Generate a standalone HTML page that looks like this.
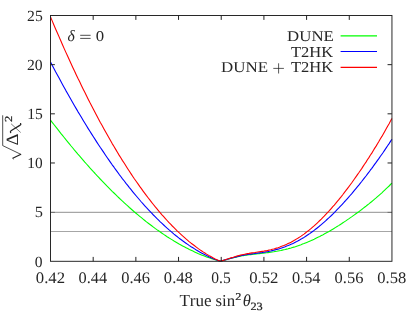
<!DOCTYPE html>
<html><head><meta charset="utf-8">
<title>chart</title>
<style>
html,body{margin:0;padding:0;background:#fff;}
body{width:415px;height:312px;overflow:hidden;font-family:"Liberation Serif",serif;}
svg{display:block}
text{font-family:"Liberation Serif",serif;font-size:20px;fill:#262626;font-kerning:none;text-rendering:geometricPrecision;}
.i{font-style:italic}
.s{stroke:#161616;stroke-width:0.35px}
.t{will-change:transform}
</style></head><body>
<svg width="415" height="312" viewBox="0 0 415 312">
<rect width="415" height="312" fill="#fff"/>
<!-- gray reference lines -->
<path d="M50.5,212.4 H391.95 M50.5,231.5 H391.95" stroke="#a6a6a6" stroke-width="1.1" fill="none"/>
<path d="M50.5,212.4 h4.4 M391.95,212.4 h-4.4" stroke="#6a6a6a" stroke-width="0.9" fill="none"/>
<!-- curves -->
<g fill="none" stroke-width="1.1" stroke-linejoin="round">
<path d="M50.5,120.1 L52.2,122.3 L53.9,124.5 L55.6,126.7 L57.4,128.9 L59.1,131.1 L60.8,133.3 L62.5,135.4 L64.2,137.5 L65.9,139.7 L67.7,141.8 L69.4,143.9 L71.1,146.0 L72.8,148.0 L74.5,150.1 L76.2,152.1 L77.9,154.1 L79.7,156.1 L81.4,158.1 L83.1,160.1 L84.8,162.1 L86.5,164.0 L88.2,165.9 L89.9,167.9 L91.7,169.8 L93.4,171.7 L95.1,173.5 L96.8,175.4 L98.5,177.2 L100.2,179.0 L102.0,180.8 L103.7,182.6 L105.4,184.4 L107.1,186.2 L108.8,187.9 L110.5,189.6 L112.2,191.3 L114.0,193.0 L115.7,194.7 L117.4,196.4 L119.1,198.0 L120.8,199.6 L122.5,201.2 L124.3,202.8 L126.0,204.4 L127.7,205.9 L129.4,207.5 L131.1,209.0 L132.8,210.5 L134.5,212.0 L136.3,213.5 L138.0,214.9 L139.7,216.3 L141.4,217.7 L143.1,219.1 L144.8,220.5 L146.5,221.9 L148.3,223.2 L150.0,224.5 L151.7,225.8 L153.4,227.1 L155.1,228.4 L156.8,229.6 L158.6,230.8 L160.3,232.0 L162.0,233.2 L163.7,234.4 L165.4,235.5 L167.1,236.7 L168.8,237.8 L170.6,238.9 L172.3,239.9 L174.0,241.0 L175.7,242.0 L177.4,243.0 L179.1,244.0 L180.9,245.0 L182.6,245.9 L184.3,246.8 L186.0,247.7 L187.7,248.6 L189.4,249.5 L191.1,250.3 L192.9,251.1 L194.6,251.9 L196.3,252.7 L198.0,253.5 L199.7,254.2 L201.4,254.9 L203.1,255.6 L204.9,256.3 L206.6,256.9 L208.3,257.5 L210.0,258.1 L211.7,258.7 L213.4,259.3 L215.2,259.8 L216.9,260.3 L218.6,260.8 L220.3,261.3 L221.7,260.9 L223.2,260.5 L224.6,260.1 L226.1,259.7 L227.5,259.3 L229.0,258.9 L230.4,258.5 L231.8,258.1 L233.3,257.8 L234.7,257.4 L236.2,257.1 L237.6,256.7 L239.1,256.4 L240.5,256.1 L241.9,255.8 L243.4,255.6 L244.8,255.3 L246.3,255.1 L247.7,254.9 L249.1,254.8 L250.6,254.6 L252.0,254.4 L253.5,254.2 L254.9,254.1 L256.4,253.9 L257.8,253.7 L259.2,253.6 L260.7,253.4 L262.1,253.3 L263.6,253.1 L265.0,253.0 L266.5,252.8 L267.9,252.6 L269.3,252.4 L270.8,252.2 L272.2,252.0 L273.7,251.8 L275.1,251.5 L276.6,251.3 L278.0,251.0 L279.4,250.7 L280.9,250.5 L282.3,250.1 L283.8,249.8 L285.2,249.5 L286.7,249.1 L288.1,248.8 L289.5,248.4 L291.0,248.0 L292.4,247.5 L293.9,247.1 L295.3,246.7 L296.7,246.2 L298.2,245.7 L299.6,245.2 L301.1,244.7 L302.5,244.1 L304.0,243.6 L305.4,243.0 L306.8,242.4 L308.3,241.8 L309.7,241.2 L311.2,240.6 L312.6,239.9 L314.1,239.2 L315.5,238.5 L316.9,237.8 L318.4,237.1 L319.8,236.4 L321.3,235.6 L322.7,234.9 L324.2,234.1 L325.6,233.3 L327.0,232.5 L328.5,231.7 L329.9,230.9 L331.4,230.0 L332.8,229.2 L334.3,228.3 L335.7,227.4 L337.1,226.5 L338.6,225.6 L340.0,224.7 L341.5,223.8 L342.9,222.8 L344.3,221.9 L345.8,220.9 L347.2,219.9 L348.7,218.9 L350.1,217.9 L351.6,216.9 L353.0,215.9 L354.4,214.9 L355.9,213.8 L357.3,212.8 L358.8,211.7 L360.2,210.6 L361.7,209.5 L363.1,208.4 L364.5,207.3 L366.0,206.2 L367.4,205.0 L368.9,203.9 L370.3,202.7 L371.8,201.5 L373.2,200.3 L374.6,199.1 L376.1,197.9 L377.5,196.6 L379.0,195.3 L380.4,194.1 L381.9,192.8 L383.3,191.4 L384.7,190.1 L386.2,188.7 L387.6,187.4 L389.1,186.0 L390.5,184.5 L391.9,183.1" stroke="#00ff00"/>
<path d="M50.5,62.0 L52.2,65.3 L53.9,68.5 L55.6,71.7 L57.4,74.9 L59.1,78.1 L60.8,81.3 L62.5,84.4 L64.2,87.5 L65.9,90.6 L67.7,93.7 L69.4,96.7 L71.1,99.7 L72.8,102.7 L74.5,105.7 L76.2,108.6 L77.9,111.6 L79.7,114.5 L81.4,117.3 L83.1,120.2 L84.8,123.0 L86.5,125.8 L88.2,128.6 L89.9,131.3 L91.7,134.1 L93.4,136.8 L95.1,139.4 L96.8,142.1 L98.5,144.7 L100.2,147.3 L102.0,149.9 L103.7,152.4 L105.4,155.0 L107.1,157.5 L108.8,159.9 L110.5,162.4 L112.2,164.8 L114.0,167.2 L115.7,169.6 L117.4,171.9 L119.1,174.3 L120.8,176.5 L122.5,178.8 L124.3,181.0 L126.0,183.3 L127.7,185.4 L129.4,187.6 L131.1,189.7 L132.8,191.8 L134.5,193.9 L136.3,196.0 L138.0,198.0 L139.7,200.0 L141.4,202.0 L143.1,203.9 L144.8,205.8 L146.5,207.7 L148.3,209.6 L150.0,211.4 L151.7,213.2 L153.4,215.0 L155.1,216.7 L156.8,218.4 L158.6,220.1 L160.3,221.8 L162.0,223.4 L163.7,225.0 L165.4,226.6 L167.1,228.2 L168.8,229.7 L170.6,231.2 L172.3,232.6 L174.0,234.1 L175.7,235.5 L177.4,236.8 L179.1,238.2 L180.9,239.5 L182.6,240.8 L184.3,242.0 L186.0,243.2 L187.7,244.4 L189.4,245.6 L191.1,246.7 L192.9,247.8 L194.6,248.9 L196.3,250.0 L198.0,251.0 L199.7,252.0 L201.4,252.9 L203.1,253.8 L204.9,254.7 L206.6,255.6 L208.3,256.4 L210.0,257.2 L211.7,258.0 L213.4,258.7 L215.2,259.4 L216.9,260.1 L218.6,260.7 L220.3,261.3 L221.7,260.9 L223.2,260.4 L224.6,260.0 L226.1,259.6 L227.5,259.2 L229.0,258.8 L230.4,258.4 L231.8,258.0 L233.3,257.6 L234.7,257.3 L236.2,256.9 L237.6,256.5 L239.1,256.1 L240.5,255.8 L241.9,255.5 L243.4,255.2 L244.8,254.9 L246.3,254.7 L247.7,254.5 L249.1,254.3 L250.6,254.1 L252.0,253.9 L253.5,253.7 L254.9,253.5 L256.4,253.3 L257.8,253.1 L259.2,252.9 L260.7,252.8 L262.1,252.6 L263.6,252.3 L265.0,252.1 L266.5,251.8 L267.9,251.6 L269.3,251.3 L270.8,251.0 L272.2,250.6 L273.7,250.3 L275.1,249.9 L276.6,249.5 L278.0,249.1 L279.4,248.7 L280.9,248.2 L282.3,247.7 L283.8,247.2 L285.2,246.7 L286.7,246.1 L288.1,245.6 L289.5,245.0 L291.0,244.3 L292.4,243.7 L293.9,243.0 L295.3,242.2 L296.7,241.5 L298.2,240.7 L299.6,239.9 L301.1,239.1 L302.5,238.2 L304.0,237.4 L305.4,236.5 L306.8,235.5 L308.3,234.5 L309.7,233.6 L311.2,232.5 L312.6,231.5 L314.1,230.4 L315.5,229.3 L316.9,228.2 L318.4,227.0 L319.8,225.8 L321.3,224.6 L322.7,223.4 L324.2,222.1 L325.6,220.9 L327.0,219.5 L328.5,218.2 L329.9,216.9 L331.4,215.5 L332.8,214.1 L334.3,212.6 L335.7,211.2 L337.1,209.7 L338.6,208.2 L340.0,206.7 L341.5,205.2 L342.9,203.6 L344.3,202.0 L345.8,200.4 L347.2,198.8 L348.7,197.1 L350.1,195.5 L351.6,193.8 L353.0,192.1 L354.4,190.4 L355.9,188.6 L357.3,186.9 L358.8,185.1 L360.2,183.3 L361.7,181.5 L363.1,179.7 L364.5,177.8 L366.0,176.0 L367.4,174.1 L368.9,172.2 L370.3,170.2 L371.8,168.3 L373.2,166.4 L374.6,164.4 L376.1,162.4 L377.5,160.4 L379.0,158.4 L380.4,156.3 L381.9,154.2 L383.3,152.2 L384.7,150.1 L386.2,147.9 L387.6,145.8 L389.1,143.6 L390.5,141.4 L391.9,139.2" stroke="#0000ff"/>
<path d="M50.5,16.9 L52.2,20.9 L53.9,25.0 L55.6,29.0 L57.4,33.0 L59.1,36.9 L60.8,40.8 L62.5,44.7 L64.2,48.6 L65.9,52.4 L67.7,56.2 L69.4,59.9 L71.1,63.7 L72.8,67.4 L74.5,71.0 L76.2,74.7 L77.9,78.3 L79.7,81.8 L81.4,85.4 L83.1,88.9 L84.8,92.3 L86.5,95.8 L88.2,99.2 L89.9,102.6 L91.7,105.9 L93.4,109.2 L95.1,112.5 L96.8,115.8 L98.5,119.0 L100.2,122.2 L102.0,125.3 L103.7,128.4 L105.4,131.5 L107.1,134.6 L108.8,137.6 L110.5,140.6 L112.2,143.6 L114.0,146.5 L115.7,149.4 L117.4,152.2 L119.1,155.1 L120.8,157.8 L122.5,160.6 L124.3,163.3 L126.0,166.0 L127.7,168.7 L129.4,171.3 L131.1,173.9 L132.8,176.5 L134.5,179.0 L136.3,181.5 L138.0,183.9 L139.7,186.4 L141.4,188.7 L143.1,191.1 L144.8,193.4 L146.5,195.7 L148.3,198.0 L150.0,200.2 L151.7,202.4 L153.4,204.5 L155.1,206.7 L156.8,208.7 L158.6,210.8 L160.3,212.8 L162.0,214.8 L163.7,216.7 L165.4,218.6 L167.1,220.5 L168.8,222.4 L170.6,224.2 L172.3,226.0 L174.0,227.7 L175.7,229.4 L177.4,231.1 L179.1,232.7 L180.9,234.3 L182.6,235.9 L184.3,237.4 L186.0,238.9 L187.7,240.3 L189.4,241.8 L191.1,243.2 L192.9,244.5 L194.6,245.8 L196.3,247.1 L198.0,248.4 L199.7,249.6 L201.4,250.7 L203.1,251.9 L204.9,253.0 L206.6,254.1 L208.3,255.1 L210.0,256.1 L211.7,257.0 L213.4,258.0 L215.2,258.9 L216.9,259.7 L218.6,260.5 L220.3,261.3 L221.7,260.8 L223.2,260.4 L224.6,259.9 L226.1,259.4 L227.5,259.0 L229.0,258.5 L230.4,258.1 L231.8,257.6 L233.3,257.2 L234.7,256.7 L236.2,256.3 L237.6,255.9 L239.1,255.5 L240.5,255.1 L241.9,254.8 L243.4,254.5 L244.8,254.2 L246.3,253.9 L247.7,253.6 L249.1,253.4 L250.6,253.1 L252.0,252.9 L253.5,252.7 L254.9,252.5 L256.4,252.2 L257.8,252.0 L259.2,251.8 L260.7,251.6 L262.1,251.4 L263.6,251.2 L265.0,250.9 L266.5,250.7 L267.9,250.4 L269.3,250.0 L270.8,249.7 L272.2,249.3 L273.7,249.0 L275.1,248.6 L276.6,248.1 L278.0,247.7 L279.4,247.2 L280.9,246.6 L282.3,246.1 L283.8,245.5 L285.2,244.9 L286.7,244.3 L288.1,243.6 L289.5,242.9 L291.0,242.2 L292.4,241.4 L293.9,240.6 L295.3,239.8 L296.7,238.9 L298.2,238.0 L299.6,237.1 L301.1,236.1 L302.5,235.1 L304.0,234.1 L305.4,233.0 L306.8,231.9 L308.3,230.8 L309.7,229.6 L311.2,228.4 L312.6,227.2 L314.1,225.9 L315.5,224.6 L316.9,223.3 L318.4,221.9 L319.8,220.5 L321.3,219.1 L322.7,217.7 L324.2,216.2 L325.6,214.7 L327.0,213.2 L328.5,211.6 L329.9,210.0 L331.4,208.4 L332.8,206.7 L334.3,205.1 L335.7,203.4 L337.1,201.6 L338.6,199.9 L340.0,198.1 L341.5,196.3 L342.9,194.5 L344.3,192.6 L345.8,190.7 L347.2,188.8 L348.7,186.9 L350.1,185.0 L351.6,183.0 L353.0,181.0 L354.4,179.0 L355.9,176.9 L357.3,174.9 L358.8,172.8 L360.2,170.7 L361.7,168.6 L363.1,166.4 L364.5,164.2 L366.0,162.1 L367.4,159.8 L368.9,157.6 L370.3,155.3 L371.8,153.1 L373.2,150.7 L374.6,148.4 L376.1,146.1 L377.5,143.7 L379.0,141.3 L380.4,138.8 L381.9,136.4 L383.3,133.9 L384.7,131.4 L386.2,128.8 L387.6,126.3 L389.1,123.7 L390.5,121.0 L391.9,118.4" stroke="#ff0000"/>
</g>
<!-- frame + ticks -->
<rect x="50.5" y="15.5" width="341.45" height="245.80" fill="none" stroke="#1e1e1e" stroke-width="0.95"/>
<path d="M93.18,261.3 v-4.4 M93.18,15.5 v4.4 M135.86,261.3 v-4.4 M135.86,15.5 v4.4 M178.54,261.3 v-4.4 M178.54,15.5 v4.4 M221.23,261.3 v-4.4 M221.23,15.5 v4.4 M263.91,261.3 v-4.4 M263.91,15.5 v4.4 M306.59,261.3 v-4.4 M306.59,15.5 v4.4 M349.27,261.3 v-4.4 M349.27,15.5 v4.4 M50.5,162.98 h4.4 M391.95,162.98 h-4.4 M50.5,113.82 h4.4 M391.95,113.82 h-4.4 M50.5,64.66 h4.4 M391.95,64.66 h-4.4 " stroke="#222" stroke-width="1.0" fill="none"/>
<!-- legend -->
<g fill="none" stroke-width="1.15">
<path d="M340.6,35.8 H377.0" stroke="#00ff00"/>
<path d="M340.6,51.5 H377.0" stroke="#0000ff"/>
<path d="M340.6,67.4 H377.0" stroke="#ff0000"/>
</g>
<g class="t">
<text transform="matrix(0.8411,0,0,0.7449,287.12,40.65)">DUNE</text>
<text transform="matrix(0.8251,0,0,0.7552,291.00,56.60)">T2HK</text>
<text transform="matrix(0.8467,0,0,0.7524,221.01,72.05)">DUNE</text>
<text transform="matrix(0.8251,0,0,0.7552,291.00,72.20)">T2HK</text>
<text class="i" transform="matrix(0.7800,0,0,0.7833,67.44,40.75)">δ</text>
<text transform="matrix(0.8376,0,0,0.7484,95.76,40.95)">0</text>
<path d="M80.2,35.3 H90.6 M80.2,38.4 H90.6" stroke="#222" stroke-width="0.8" fill="none"/>
<text transform="matrix(0.8360,0,0,0.8024,35.81,282.67)">0.42</text>
<text transform="matrix(0.8165,0,0,0.8024,78.51,282.67)">0.44</text>
<text transform="matrix(0.8234,0,0,0.8024,121.19,282.67)">0.46</text>
<text transform="matrix(0.8274,0,0,0.8024,163.86,282.67)">0.48</text>
<text transform="matrix(0.7759,0,0,0.8024,211.33,282.67)">0.5</text>
<text transform="matrix(0.8360,0,0,0.8024,249.22,282.67)">0.52</text>
<text transform="matrix(0.8165,0,0,0.8024,291.92,282.67)">0.54</text>
<text transform="matrix(0.8234,0,0,0.8024,334.59,282.67)">0.56</text>
<text transform="matrix(0.8274,0,0,0.8024,377.27,282.67)">0.58</text>
<text transform="matrix(0.7786,0,0,0.7706,34.81,266.55)">0</text>
<text transform="matrix(0.8192,0,0,0.7825,34.65,217.39)">5</text>
<text transform="matrix(0.7666,0,0,0.7706,27.25,168.23)">10</text>
<text transform="matrix(0.7789,0,0,0.7762,27.23,119.07)">15</text>
<text transform="matrix(0.7843,0,0,0.7706,26.91,69.91)">20</text>
<text transform="matrix(0.7852,0,0,0.7740,27.11,20.75)">25</text>
<text transform="matrix(0.8529,0,0,0.8502,179.39,305.83)">True</text>
<text transform="matrix(0.8417,0,0,0.8260,215.41,305.84)">sin</text>
<text class="s" transform="matrix(0.6112,0,0,0.5211,235.36,299.80)">2</text>
<text class="i" transform="matrix(0.8235,0,0,0.8322,242.70,305.84)">θ</text>
<text class="s" transform="matrix(0.6161,0,0,0.5581,250.46,309.59)">23</text>
<g transform="rotate(-90)">
<text transform="matrix(0.9341,0,0,0.8634,-145.51,17.50)">Δ</text>
<text class="s" transform="matrix(0.6299,0,0,0.5362,-121.90,12.00)">2</text>
</g>
<path d="M273.3,68.4 H283.9 M278.6,63.3 V73.5" stroke="#222" stroke-width="0.75" fill="none"/>
<path d="M10.7,132.6 C10.0,131.6 10.6,130.9 11.8,130.2 L19.4,125.6 C20.6,124.9 21.2,124.6 20.6,123.6" stroke="#222" stroke-width="1.25" fill="none" stroke-linecap="round"/>
<path d="M11.1,123.8 L20.7,132.5" stroke="#222" stroke-width="0.6" fill="none"/>
<path d="M12.6,157.9 L13.5,159.4" stroke="#222" stroke-width="0.7" fill="none"/>
<path d="M12.7,158.2 L21.0,154.3" stroke="#222" stroke-width="1.25" fill="none"/>
<path d="M21.2,154.5 L2.7,145.6 V115.3" stroke="#222" stroke-width="0.8" fill="none" stroke-linejoin="miter"/>
</g>
</svg>
</body></html>
